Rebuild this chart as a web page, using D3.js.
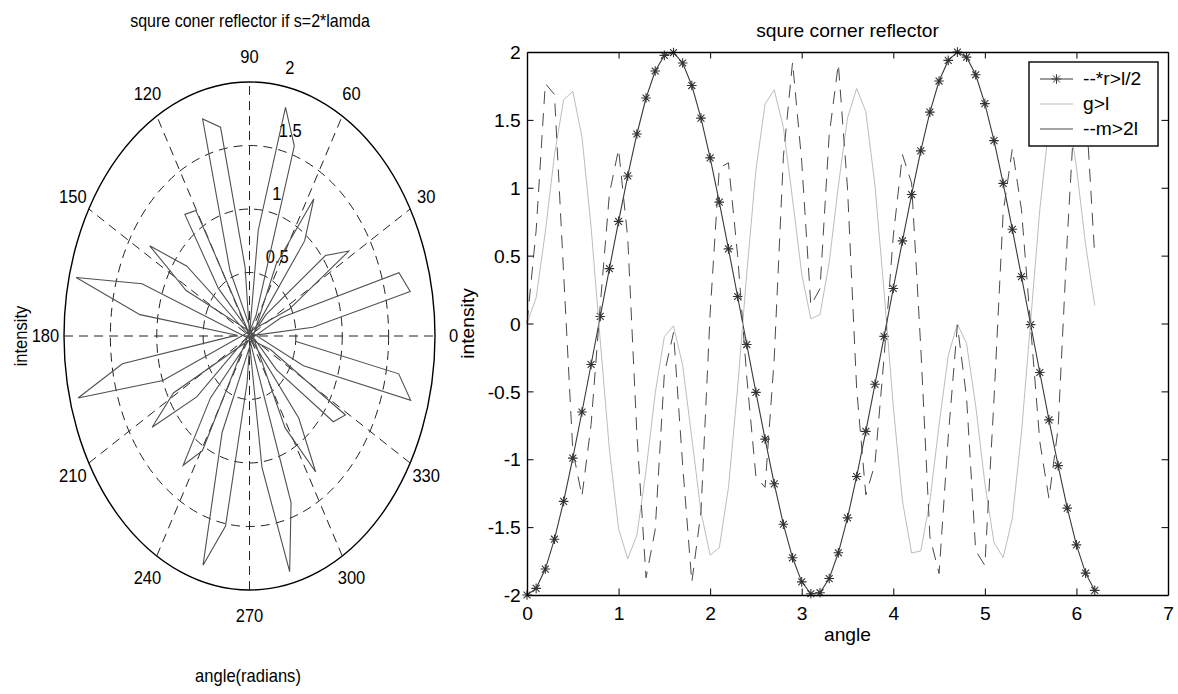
<!DOCTYPE html>
<html>
<head>
<meta charset="utf-8">
<script src="https://cdn.jsdelivr.net/npm/d3@7"></script>
<style>
  body { margin: 0; background: #fff; }
  text { font-family: "Liberation Sans", Arial, sans-serif; fill: #000; }
</style>
</head>
<body>
<div id="figure"></div>
<script>
// sampled angle (radians)
var angle = [0, 0.1, 0.2, 0.3, 0.4, 0.5, 0.6, 0.7, 0.8, 0.9, 1.0, 1.1, 1.2, 1.3, 1.4, 1.5, 1.6, 1.7, 1.8, 1.9,
             2.0, 2.1, 2.2, 2.3, 2.4, 2.5, 2.6, 2.7, 2.8, 2.9, 3.0, 3.1, 3.2, 3.3, 3.4, 3.5, 3.6, 3.7, 3.8, 3.9,
             4.0, 4.1, 4.2, 4.3, 4.4, 4.5, 4.6, 4.7, 4.8, 4.9, 5.0, 5.1, 5.2, 5.3, 5.4, 5.5, 5.6, 5.7, 5.8, 5.9,
             6.0, 6.1, 6.2];

// intensity for s = lambda/2  (legend "--*r>l/2")
var halfLambda = [-2.000, -1.951, -1.809, -1.589, -1.310, -0.992, -0.652, -0.302, 0.052, 0.404,
                  0.752, 1.087, 1.396, 1.661, 1.860, 1.975, 1.996, 1.919, 1.753, 1.513,
                  1.220, 0.894, 0.550, 0.199, -0.155, -0.507, -0.852, -1.181, -1.479, -1.726,
                  -1.903, -1.991, -1.983, -1.879, -1.689, -1.432, -1.127, -0.795, -0.448, -0.095,
                  0.258, 0.609, 0.950, 1.272, 1.557, 1.786, 1.938, 1.999, 1.962, 1.832,
                  1.620, 1.347, 1.032, 0.694, 0.345, -0.008, -0.361, -0.710, -1.047, -1.360,
                  -1.631, -1.839, -1.966];

// intensity for s = lambda  (legend "g>l")
var oneLambda = [0.000, 0.190, 0.675, 1.243, 1.648, 1.710, 1.375, 0.710, -0.125, -0.930,
                 -1.512, -1.733, -1.559, -1.084, -0.514, -0.097, -0.017, -0.309, -0.844, -1.388,
                 -1.706, -1.652, -1.209, -0.475, 0.372, 1.130, 1.618, 1.721, 1.444, 0.916,
                 0.366, 0.034, 0.066, 0.449, 1.013, 1.513, 1.732, 1.561, 1.018, 0.230,
                 -0.612, -1.308, -1.690, -1.676, -1.307, -0.746, -0.237, -0.003, -0.147, -0.605,
                 -1.177, -1.614, -1.724, -1.436, -0.805, 0.019, 0.839, 1.457, 1.728, 1.600,
                 1.153, 0.581, 0.133];

// intensity for s = 2*lambda  (legend "--m>2l", also the polar plot)
var twoLambda = [0.000, 0.687, 1.768, 1.687, 0.367, -0.935, -1.272, -0.744, 0.133, 0.956,
                 1.284, 0.632, -0.815, -1.873, -1.519, -0.369, -0.067, -1.043, -1.906, -1.386,
                 0.076, 1.146, 1.184, 0.503, -0.395, -1.128, -1.207, -0.254, 1.230, 1.925,
                 1.193, 0.133, 0.257, 1.388, 1.912, 0.997, -0.480, -1.262, -1.035, -0.245,
                 0.644, 1.244, 1.035, -0.176, -1.572, -1.842, -0.836, -0.012, -0.545, -1.674,
                 -1.782, -0.559, 0.817, 1.287, 0.838, -0.020, -0.870, -1.289, -0.771, 0.627,
                 1.810, 1.636, 0.496];

var polarAngleTicks = [0, 30, 60, 90, 120, 150, 180, 210, 240, 270, 300, 330];
var polarRingTicks = [0.5, 1, 1.5, 2];
var xTicks = [0, 1, 2, 3, 4, 5, 6, 7];
var yTicks = [-2, -1.5, -1, -0.5, 0, 0.5, 1, 1.5, 2];
var legendLabels = ["--*r>l/2", "g>l", "--m>2l"];

var W = 1178, H = 694;
var svg = d3.select('#figure')
  .append('svg')
    .attr('width', W)
    .attr('height', H);

// text helper (fonts in the original are slightly stretched / squeezed)
function addText(parent, x, y, str, size, sx, anchor, baseline, rot) {
  var t = parent.append('text')
    .attr('transform', 'translate(' + x + ',' + y + ')' + (rot ? ' rotate(' + rot + ')' : '') + ' scale(' + sx + ',1)')
    .attr('text-anchor', anchor || 'middle')
    .style('font-size', size + 'px')
    .text(str);
  if (baseline) t.attr('dominant-baseline', baseline);
  return t;
}

// asterisk marker like matlab '*'
function star(s) {
  var p = d3.path(), d = s * 0.72;
  p.moveTo(-s, 0); p.lineTo(s, 0);
  p.moveTo(0, -s); p.lineTo(0, s);
  p.moveTo(-d, -d); p.lineTo(d, d);
  p.moveTo(-d, d); p.lineTo(d, -d);
  return p.toString();
}

// ---------------- Polar plot ----------------
var LF = 18, LS = 0.92;
var polar = svg.append('g').attr('class', 'polar');
var px = d3.scaleLinear().domain([-2, 2]).range([64, 435]);
var py = d3.scaleLinear().domain([-2, 2]).range([590, 82]);
var rmax = polarRingTicks[polarRingTicks.length - 1];

// rings
polar.selectAll('ellipse.ring')
  .data(polarRingTicks)
  .enter().append('ellipse')
    .attr('class', 'ring')
    .attr('cx', px(0))
    .attr('cy', py(0))
    .attr('rx', d => px(d) - px(0))
    .attr('ry', d => py(0) - py(d))
    .attr('fill', 'none')
    .attr('stroke', d => d === rmax ? '#000' : '#222')
    .attr('stroke-width', d => d === rmax ? 1.4 : 1)
    .attr('stroke-dasharray', d => d === rmax ? null : '9,6');

// spokes
polar.selectAll('line.spoke')
  .data(polarAngleTicks.filter(a => a < 180))
  .enter().append('line')
    .attr('class', 'spoke')
    .attr('x1', a => px(-rmax * Math.cos(a * Math.PI / 180)))
    .attr('y1', a => py(-rmax * Math.sin(a * Math.PI / 180)))
    .attr('x2', a => px(rmax * Math.cos(a * Math.PI / 180)))
    .attr('y2', a => py(rmax * Math.sin(a * Math.PI / 180)))
    .attr('stroke', '#222')
    .attr('stroke-width', 1)
    .attr('stroke-dasharray', '9,6');

// angle labels
polarAngleTicks.forEach(function(a) {
  var t = a * Math.PI / 180;
  addText(polar, px(1.1 * rmax * Math.cos(t)), py(1.1 * rmax * Math.sin(t)), String(a), LF, LS, 'middle', 'central');
});

// ring labels along 82 degrees
var c82 = Math.cos(82 * Math.PI / 180), s82 = Math.sin(82 * Math.PI / 180);
polarRingTicks.forEach(function(r) {
  addText(polar, px((r + 0.025) * c82) + 9.5, py((r + 0.025) * s82) - 7, String(r), LF, LS, 'start');
});

// data
var polarData = angle.map((a, i) => ({a: a, r: twoLambda[i]}));
var polarLine = d3.line()
  .x(d => px(d.r * Math.cos(d.a)))
  .y(d => py(d.r * Math.sin(d.a)));
polar.append('path')
  .datum(polarData)
  .attr('d', polarLine)
  .attr('fill', 'none')
  .attr('stroke', '#505050')
  .attr('stroke-width', 1.1);

addText(polar, 250, 26.5, 'squre coner reflector if s=2*lamda', LF, 0.89, 'middle');
addText(polar, 27, 336, 'intensity', LF, LS, 'middle', null, -90);
addText(polar, 248, 682, 'angle(radians)', LF, LS, 'middle');

// ---------------- Cartesian plot ----------------
var RF = 18.5, RS = 1.04;
var margin = {top: 52, right: 1178 - 1168, bottom: 694 - 595, left: 527};
var plot = svg.append('g').attr('class', 'cart');
var x = d3.scaleLinear().domain([0, 7]).range([margin.left, W - margin.right]);
var y = d3.scaleLinear().domain([-2, 2]).range([H - margin.bottom, margin.top]);

var data = angle.map((a, i) => ({a: a, r1: halfLambda[i], r2: oneLambda[i], r3: twoLambda[i]}));

var line1 = d3.line().x(d => x(d.a)).y(d => y(d.r1));
var line2 = d3.line().x(d => x(d.a)).y(d => y(d.r2));
var line3 = d3.line().x(d => x(d.a)).y(d => y(d.r3));

plot.append('path').datum(data).attr('d', line1)
  .attr('fill', 'none').attr('stroke', '#3a3a3a').attr('stroke-width', 1.1);
plot.selectAll('path.mk')
  .data(data)
  .enter().append('path')
    .attr('class', 'mk')
    .attr('transform', d => 'translate(' + x(d.a) + ',' + y(d.r1) + ')')
    .attr('d', star(4.8))
    .attr('fill', 'none')
    .attr('stroke', '#333')
    .attr('stroke-width', 1.1);
plot.append('path').datum(data).attr('d', line2)
  .attr('fill', 'none').attr('stroke', '#bdbdbd').attr('stroke-width', 1);
plot.append('path').datum(data).attr('d', line3)
  .attr('fill', 'none').attr('stroke', '#4a4a4a').attr('stroke-width', 1)
  .attr('stroke-dasharray', '13,9');

// axes (ticks inside, box all round)
var noLabel = () => '';
var xAxis = plot.append('g').attr('transform', 'translate(0,' + y(-2) + ')')
  .call(d3.axisBottom(x).tickValues(xTicks).tickSizeInner(-6.5).tickSizeOuter(0).tickPadding(12).tickFormat(d => String(d)));
var xTop = plot.append('g').attr('transform', 'translate(0,' + y(2) + ')')
  .call(d3.axisTop(x).tickValues(xTicks).tickSizeInner(-6.5).tickSizeOuter(0).tickFormat(noLabel));
var yAxis = plot.append('g').attr('transform', 'translate(' + x(0) + ',0)')
  .call(d3.axisLeft(y).tickValues(yTicks).tickSizeInner(-6.5).tickSizeOuter(0).tickPadding(6).tickFormat(d => String(d)));
var yRight = plot.append('g').attr('transform', 'translate(' + x(7) + ',0)')
  .call(d3.axisRight(y).tickValues(yTicks).tickSizeInner(-6.5).tickSizeOuter(0).tickFormat(noLabel));

[xAxis, xTop, yAxis, yRight].forEach(function(g) {
  g.select('.domain').attr('stroke', '#000').attr('stroke-width', 1.4);
  g.selectAll('.tick line').attr('stroke', '#000');
  g.selectAll('text')
    .style('font-size', RF + 'px')
    .style('font-family', '"Liberation Sans", Arial, sans-serif')
    .attr('fill', '#000');
});
xAxis.selectAll('text').attr('transform', 'scale(' + RS + ',1)');
yAxis.selectAll('text').attr('transform', 'scale(' + RS + ',1)').attr('dy', '0.36em');

addText(plot, (x(0) + x(7)) / 2, 36.5, 'squre corner reflector', RF, RS, 'middle');
addText(plot, (x(0) + x(7)) / 2, 641, 'angle', RF, RS, 'middle');
addText(plot, 474, (y(-2) + y(2)) / 2, 'intensity', RF, RS, 'middle', null, -90);

// legend
var legend = plot.append('g').attr('class', 'legend');
legend.append('rect')
  .attr('x', 1029).attr('y', 62).attr('width', 129).attr('height', 84)
  .attr('fill', '#fff').attr('stroke', '#000').attr('stroke-width', 1.4);
var legColors = ['#3a3a3a', '#bdbdbd', '#4a4a4a'];
legendLabels.forEach(function(lbl, i) {
  var ly = 79 + i * 25;
  legend.append('line')
    .attr('x1', 1040).attr('x2', 1073).attr('y1', ly).attr('y2', ly)
    .attr('stroke', legColors[i]).attr('stroke-width', 1);
  if (i === 0) {
    legend.append('path')
      .attr('transform', 'translate(1056.5,' + ly + ')')
      .attr('d', star(4.8))
      .attr('fill', 'none').attr('stroke', legColors[i]);
  }
  addText(legend, 1083, ly, lbl, RF, RS, 'start', 'central');
});
</script>
</body>
</html>
